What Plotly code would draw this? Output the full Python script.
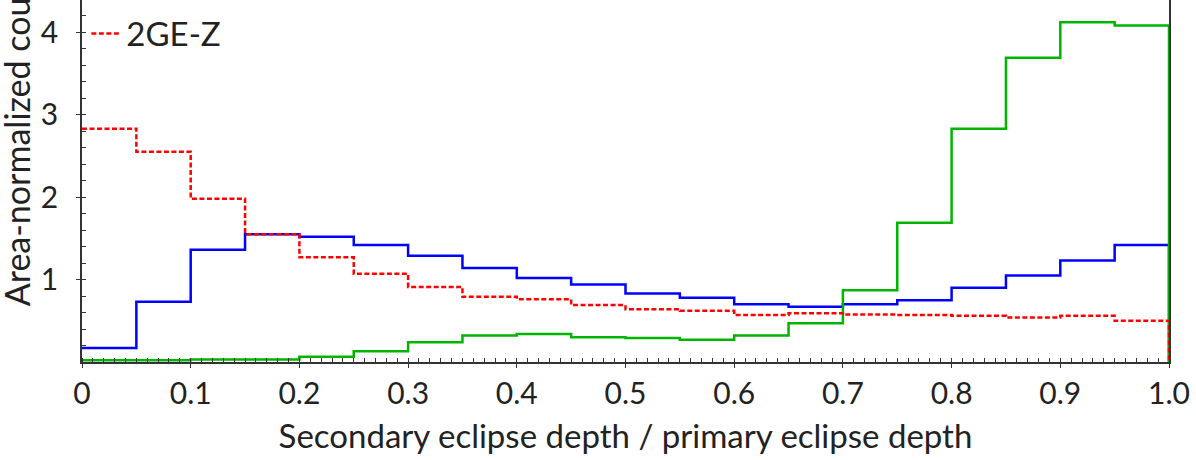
import plotly.graph_objects as go

edges = [round(i * 0.05, 2) for i in range(21)]
blue_vals = [0.17, 0.73, 1.36, 1.55, 1.52, 1.42, 1.29, 1.14, 1.02, 0.94,
             0.83, 0.78, 0.70, 0.67, 0.70, 0.75, 0.90, 1.05, 1.23, 1.42]
green_vals = [0.02, 0.02, 0.03, 0.03, 0.065, 0.13, 0.24, 0.32, 0.34, 0.30,
              0.29, 0.27, 0.32, 0.47, 0.87, 1.69, 2.83, 3.69, 4.12, 4.08]
red_vals = [2.83, 2.55, 1.98, 1.55, 1.27, 1.07, 0.91, 0.79, 0.76, 0.69,
            0.64, 0.62, 0.57, 0.59, 0.575, 0.57, 0.56, 0.54, 0.56, 0.50]
red_name = "2GE-Z"
xtick_vals = [0, 0.1, 0.2, 0.3, 0.4, 0.5, 0.6, 0.7, 0.8, 0.9, 1.0]
xtick_text = ["0", "0.1", "0.2", "0.3", "0.4", "0.5", "0.6", "0.7", "0.8", "0.9", "1.0"]
ytick_vals = [1, 2, 3, 4]

FONT = "Lato"
AX = "#333333"
TXT = "#222222"
XR = [0, 1.0]
YR = [0, 4.39]


def step_xy(vals):
    xs = edges[:-1] + [edges[-1]]
    ys = list(vals) + [0]
    return xs, ys


fig = go.Figure()
# empty helper trace so the overlay axes (inner half of major ticks) are drawn
fig.add_trace(go.Scatter(x=[None], y=[None], xaxis="x2", yaxis="y2",
                         showlegend=False, hoverinfo="skip"))
for vals, color, dashed, name, show in [
    (blue_vals, "#0000ff", False, "blue", False),
    (green_vals, "#00b400", False, "green", False),
    (red_vals, "#ff0000", True, red_name, True),
]:
    xs, ys = step_xy(vals)
    fig.add_trace(go.Scatter(
        x=xs, y=ys, mode="lines", line_shape="hv", name=name,
        line=dict(color=color, width=2.5, dash="5px,2.5px" if dashed else "solid"),
        showlegend=show, cliponaxis=False,
    ))

fig.update_layout(
    width=1196, height=460,
    margin=dict(l=82, r=27, t=0, b=98, autoexpand=False),
    paper_bgcolor="white", plot_bgcolor="white",
    font=dict(family=FONT, size=30, color=TXT),
    showlegend=True,
    legend=dict(x=0.004, y=0.985, xanchor="left", yanchor="top",
                bgcolor="rgba(0,0,0,0)", font=dict(size=33, family=FONT, color=TXT),
                itemwidth=30, tracegroupgap=0),
    xaxis=dict(
        range=XR, showgrid=False, zeroline=False,
        showline=True, linecolor=AX, linewidth=1.5, mirror=False,
        tickvals=xtick_vals, ticktext=xtick_text,
        ticks="outside", ticklen=4, tickcolor=AX, tickwidth=1.2,
        minor=dict(dtick=0.01, ticks="inside", ticklen=4, tickcolor=AX, tickwidth=1),
        tickfont=dict(size=30, family=FONT, color=TXT),
        title=dict(text="Secondary eclipse depth / primary eclipse depth",
                   font=dict(size=33, family=FONT, color=TXT), standoff=16),
    ),
    yaxis=dict(
        range=YR, showgrid=False, zeroline=False,
        showline=True, linecolor=AX, linewidth=1.5, mirror=True,
        tickvals=ytick_vals, ticks="outside", ticklen=4, tickcolor=AX, tickwidth=1.2,
        minor=dict(dtick=0.2, ticks="inside", ticklen=4, tickcolor=AX, tickwidth=1),
        tickfont=dict(size=30, family=FONT, color=TXT),
        ticklabelstandoff=12,
    ),
    xaxis2=dict(range=XR, overlaying="x", anchor="y2", showgrid=False, zeroline=False,
                showline=False, tickvals=xtick_vals, ticks="inside", ticklen=4,
                tickcolor=AX, tickwidth=1.2, showticklabels=False, side="bottom"),
    yaxis2=dict(range=YR, overlaying="y", anchor="x2", showgrid=False, zeroline=False,
                showline=False, tickvals=ytick_vals, ticks="inside", ticklen=4,
                tickcolor=AX, tickwidth=1.2, showticklabels=False, side="left"),
    annotations=[dict(
        text="Area-normalized counts", textangle=-90,
        xref="paper", yref="paper", x=-0.0605, y=(362 - 308) / 362,
        xanchor="center", yanchor="bottom", showarrow=False,
        font=dict(size=34, family=FONT, color=TXT),
    )],
)

fig.write_html("out.html", config={"displayModeBar": False},
               post_script="document.body.style.margin='0';")
